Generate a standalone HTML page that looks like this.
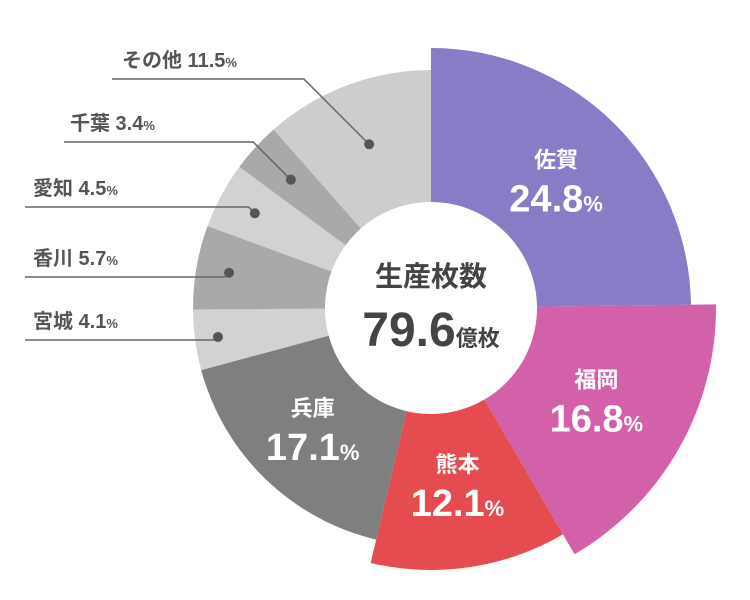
<!DOCTYPE html>
<html><head><meta charset="utf-8"><style>
html,body{margin:0;padding:0;background:#fff;}
svg{display:block;font-family:"Liberation Sans","Noto Sans CJK JP",sans-serif;font-weight:bold;}
</style></head><body>
<svg id="chart" width="750" height="600" viewBox="0 0 750 600" xmlns="http://www.w3.org/2000/svg">
<g id="slices"></g>
<g id="labels"></g>
<circle cx="431" cy="308" r="106" fill="#fff"/>
<text x="431" y="286" text-anchor="middle" font-size="28" fill="#444">生産枚数</text>
<text x="431" y="346" text-anchor="middle" fill="#444"><tspan font-size="48">79.6</tspan><tspan font-size="22">億枚</tspan></text>
</svg>
<script>
const categories = ["佐賀","福岡","熊本","兵庫","宮城","香川","愛知","千葉","その他"];
const shares = [24.8,16.8,12.1,17.1,4.1,5.7,4.5,3.4,11.5];
const names = ["saga","fukuoka","kumamoto","hyogo","miyagi","kagawa","aichi","chiba","other"];
const colors = ["#8a7bc6","#d261a9","#e44c50","#7f7f7f","#d2d2d2","#a9a9a9","#d2d2d2","#a9a9a9","#cdcdcd"];
const outerR = [260,285,262,238,238,238,238,238,238];
const CX=431, CY=308, INNER=100;
const svgNS="http://www.w3.org/2000/svg";
const total = shares.reduce((a,b)=>a+b,0);
function ang(v){return v/total*2*Math.PI - Math.PI/2;}
function pt(a,r){return [CX+r*Math.cos(a), CY+r*Math.sin(a)];}
const gS=document.getElementById('slices'), gL=document.getElementById('labels');
let cum=0;
const mids=[];
shares.forEach((v,i)=>{
  const a0=ang(cum), a1=ang(cum+v); cum+=v;
  const R=outerR[i];
  const p0=pt(a0,R), p1=pt(a1,R), q1=pt(a1,INNER), q0=pt(a0,INNER);
  const large=(a1-a0)>Math.PI?1:0;
  const p=document.createElementNS(svgNS,'path');
  p.setAttribute('d',`M${q0[0]},${q0[1]} L${p0[0]},${p0[1]} A${R},${R} 0 ${large} 1 ${p1[0]},${p1[1]} L${q1[0]},${q1[1]} A${INNER},${INNER} 0 ${large} 0 ${q0[0]},${q0[1]} Z`);
  p.setAttribute('fill',colors[i]);
  
  
  gS.appendChild(p);
  mids.push((a0+a1)/2);
});
function txt(parent,x,y,size,fill,anchor,content,name){
  const t=document.createElementNS(svgNS,'text');
  t.setAttribute('x',x);t.setAttribute('y',y);t.setAttribute('font-size',size);
  t.setAttribute('fill',fill);t.setAttribute('text-anchor',anchor);
  t.innerHTML=content;
  
  
  parent.appendChild(t);return t;
}
// inner labels for big slices
const inR=[178,190,180,170];
for(let i=0;i<4;i++){
  const [x,y]=pt(mids[i],inR[i]);
  txt(gL,x,y-14,22,"#fff","middle",categories[i],'label-name-'+names[i]);
  txt(gL,x,y+30,38,"#fff","middle",shares[i].toFixed(1)+'<tspan font-size="22">%</tspan>','label-value-'+names[i]);
}
// outer leader labels for small slices
const lineY=[340,277,207,142,79];
const lineX0=[25,25,25,64,112];
const textX=[33,33,33,70,122];
const dotR=[215,205,200,190,175];
for(let k=0;k<5;k++){
  const i=4+k;
  const [dx,dy]=pt(mids[i],dotR[k]);
  const bend=Math.min(dx-(dy-lineY[k])*(-1)*0, dx);
  const ex = dx - Math.abs(dy-lineY[k]);
  const l=document.createElementNS(svgNS,'polyline');
  l.setAttribute('points',`${lineX0[k]},${lineY[k]} ${ex},${lineY[k]} ${dx},${dy}`);
  l.setAttribute('fill','none');l.setAttribute('stroke','#666');l.setAttribute('stroke-width','1.5');
  
  
  gL.appendChild(l);
  const c=document.createElementNS(svgNS,'circle');
  c.setAttribute('cx',dx);c.setAttribute('cy',dy);c.setAttribute('r',5);c.setAttribute('fill','#555');
  
  
  gL.appendChild(c);
  txt(gL,textX[k],lineY[k]-12,20,"#555","start",categories[i]+' '+shares[i].toFixed(1)+'<tspan font-size="13">%</tspan>','label-'+names[i]);
}
</script>
</body></html>
